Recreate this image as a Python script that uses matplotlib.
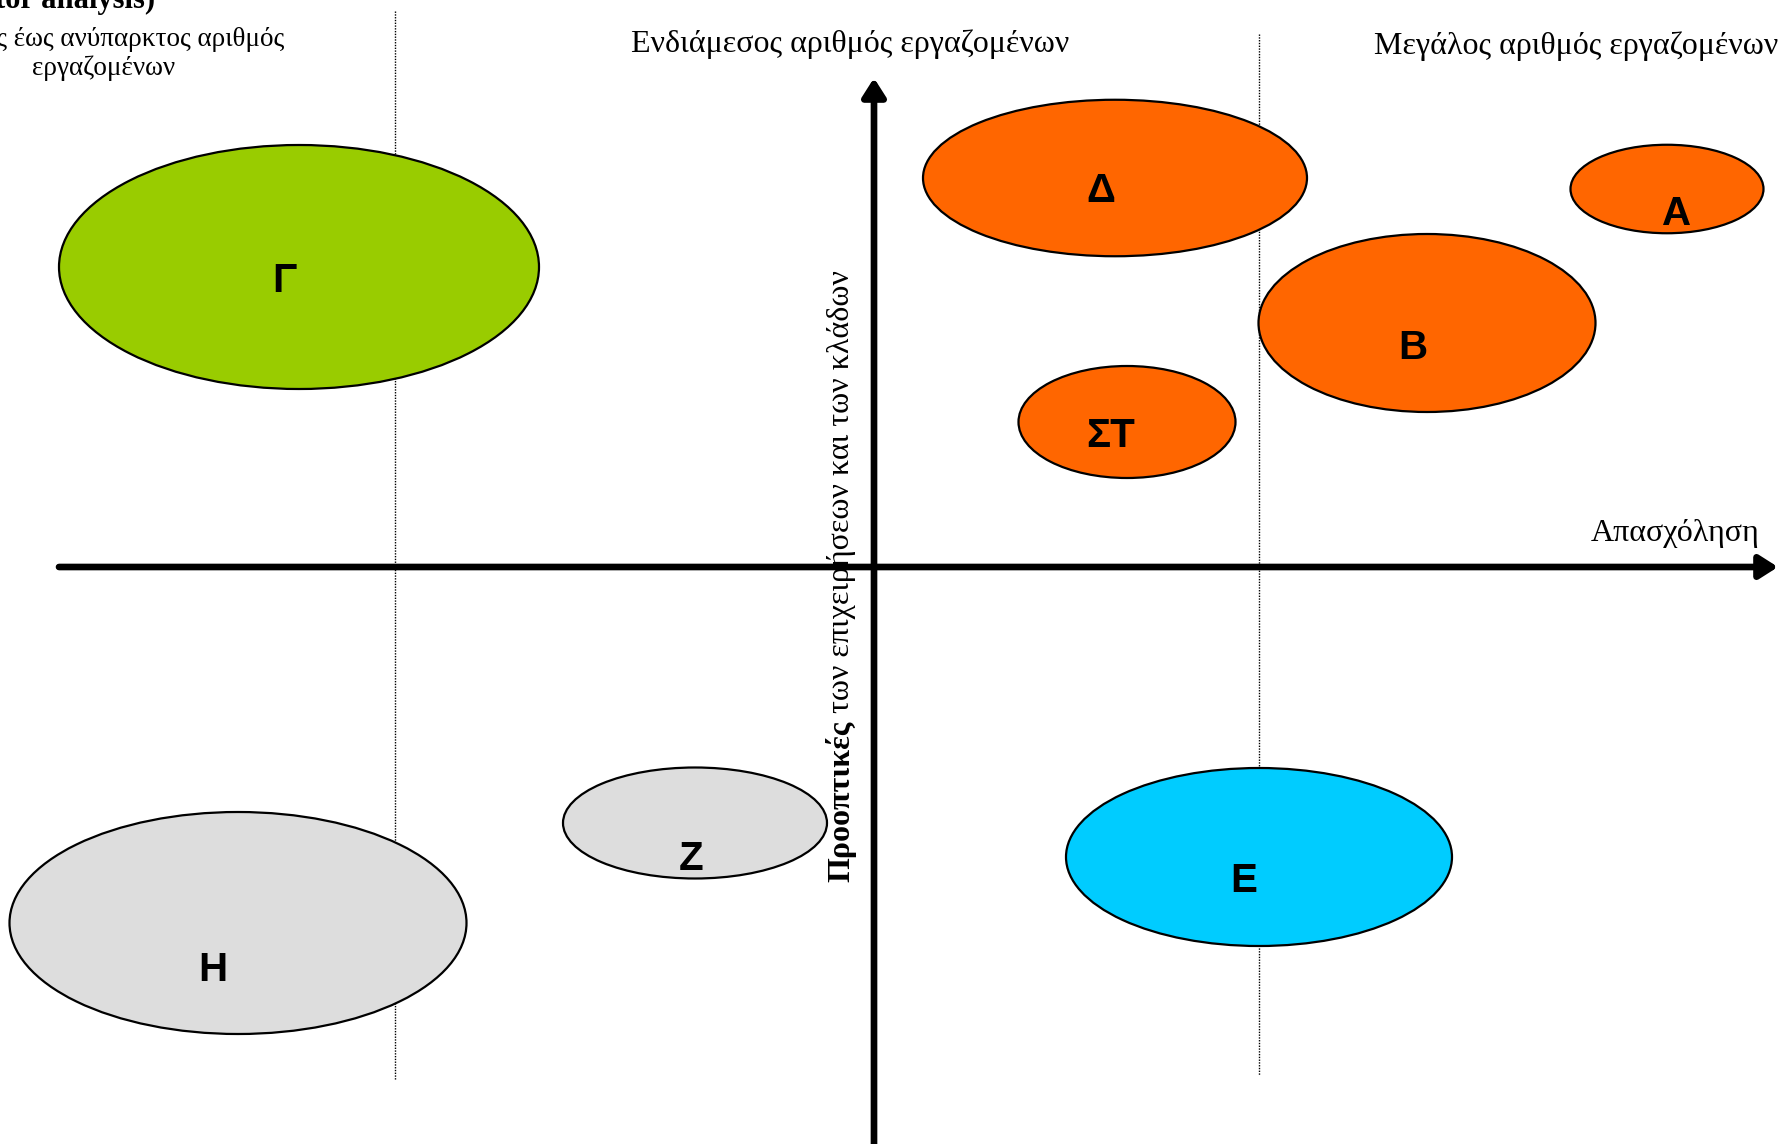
import matplotlib
matplotlib.use("Agg")
import matplotlib.pyplot as plt
from matplotlib.patches import Ellipse

# ---- data (units: origin at the axes cross, 1 unit = 100 px) ----
labels = ["Α", "Β", "Γ", "Δ", "Ε", "ΣΤ", "Ζ", "Η"]
cx = [7.93, 5.53, -5.75, 2.41, 3.85, 2.53, -1.79, -6.36]
cy = [3.78, 2.44, 3.00, 3.89, -2.90, 1.45, -2.56, -3.56]
widths = [1.93, 3.37, 4.80, 3.84, 3.86, 2.17, 2.64, 4.57]
heights = [0.885, 1.78, 2.44, 1.565, 1.78, 1.12, 1.11, 2.22]
colors = ["#FF6600", "#FF6600", "#99CC00", "#FF6600", "#00CCFF", "#FF6600", "#DDDDDD", "#DDDDDD"]
label_x = [8.03, 5.39, -5.90, 2.27, 3.70, 2.37, -1.83, -6.61]
label_y = [3.53, 2.19, 2.86, 3.76, -3.14, 1.31, -2.92, -4.03]

region_dividers = [-4.79, 3.85]
region_titles = ["Μικρός έως ανύπαρκτος αριθμός\nεργαζομένων",
                 "Ενδιάμεσος αριθμός εργαζομένων",
                 "Μεγάλος αριθμός εργαζομένων"]
x_axis_label = "Απασχόληση"
y_axis_bold = "Προοπτικές"
y_axis_rest = " των επιχειρήσεων και των κλάδων"
title = "(Sector analysis)"

W, H = 1778, 1144
fig = plt.figure(figsize=(W / 100, H / 100), dpi=100)
ax = fig.add_axes([0, 0, 1, 1])
ox, oy = 874, 567
xmax = (W - ox) / 100
ymin = -(H - oy) / 100
ax.set_xlim(-ox / 100, xmax)
ax.set_ylim(ymin, oy / 100)
ax.axis("off")

serif = "Liberation Serif"
sans = "Liberation Sans"

# dotted dividers
ax.plot([region_dividers[0]] * 2, [5.56, -5.13], color="black", lw=1.0, ls=(0, (1, 1)), zorder=1)
ax.plot([region_dividers[1]] * 2, [5.33, -5.08], color="black", lw=1.0, ls=(0, (1, 1)), zorder=1)

# axes arrows
arrow_style = dict(arrowstyle="-|>,head_length=1.1,head_width=0.7", lw=4.8, color="black",
                   shrinkA=0, shrinkB=0)
ax.annotate("", xy=(xmax, 0), xytext=(-8.15, 0), arrowprops=arrow_style,
            annotation_clip=False, zorder=3)
ax.annotate("", xy=(0, 4.89), xytext=(0, ymin - 0.1), arrowprops=arrow_style,
            annotation_clip=False, zorder=3)

# ellipses
for x, y, w, h, c in zip(cx, cy, widths, heights, colors):
    ax.add_patch(Ellipse((x, y), w, h, facecolor=c, edgecolor="black", lw=1.6, zorder=2))
for lab, x, y in zip(labels, label_x, label_y):
    ax.text(x, y, lab, ha="center", va="center", fontsize=29, fontweight="bold",
            family=sans, zorder=4)

# region titles
ax.text(-7.70, 5.13, region_titles[0], ha="center", va="center", fontsize=19.5,
        family=serif, linespacing=1.2)
ax.text(-0.24, 5.23, region_titles[1], ha="center", va="center", fontsize=23, family=serif)
ax.text(5.00, 5.21, region_titles[2], ha="left", va="center", fontsize=23, family=serif)

# title fragment (cut by top edge)
ax.text(-7.19, 5.59, title, ha="right", va="baseline", fontsize=22, fontweight="bold", family=serif)

# x-axis label
ax.text(7.17, 0.34, x_axis_label, ha="left", va="center", fontsize=23, family=serif)

# y-axis label (bold + regular parts)
fig.canvas.draw()
r = fig.canvas.get_renderer()
t1 = ax.text(-0.25, -3.15, y_axis_bold, rotation=90, rotation_mode="anchor",
             ha="left", va="baseline", fontsize=23, fontweight="bold", family=serif)
bb = t1.get_window_extent(renderer=r)
top = ax.transData.inverted().transform((0, bb.y1))[1]
ax.text(-0.25, top, y_axis_rest, rotation=90, rotation_mode="anchor",
        ha="left", va="baseline", fontsize=23, family=serif)

fig.savefig("out.png", dpi=100, facecolor="white")
